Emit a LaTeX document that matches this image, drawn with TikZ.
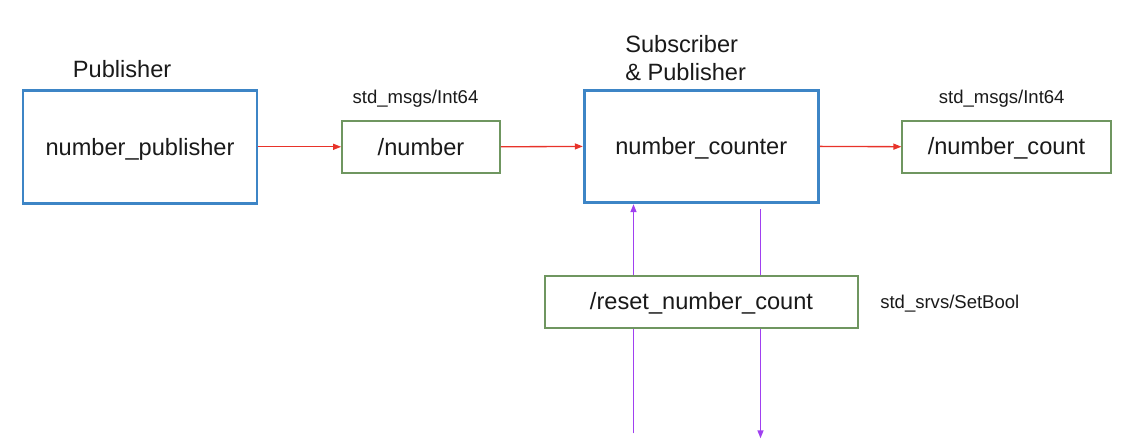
\documentclass[tikz,border=0pt]{standalone}
\usepackage{fontspec}
\setmainfont{Liberation Sans}
\usetikzlibrary{arrows.meta}
\definecolor{nodeblue}{HTML}{3D85C6}
\definecolor{topicgreen}{HTML}{6F9660}
\definecolor{msgred}{HTML}{E8332A}
\definecolor{srvpurple}{HTML}{A040F0}
\definecolor{txt}{HTML}{1A1A1A}
\tikzset{
  nodebox/.style={draw=nodeblue, line width=2.2pt, fill=white, text=txt,
    font=\fontsize{17.7pt}{21pt}\selectfont, text height=12.4pt, text depth=0pt,
    inner sep=0pt},
  topicbox/.style={draw=topicgreen, line width=1.3pt, fill=white, text=txt,
    font=\fontsize{17.7pt}{21pt}\selectfont, text height=12.4pt, text depth=0pt,
    inner sep=0pt},
  biglabel/.style={text=txt, font=\fontsize{17.7pt}{20.8pt}\selectfont, inner sep=0pt},
  smalllabel/.style={text=txt, font=\fontsize{13.9pt}{16pt}\selectfont, inner sep=0pt},
  msgarrow/.style={draw=msgred, line width=1pt, -{Triangle[length=6pt,width=4.5pt]}},
  srvline/.style={draw=srvpurple, line width=1.1pt},
  srvarrow/.style={srvline, -{Triangle[length=6pt,width=4.5pt]}}
}
\begin{document}
\begin{tikzpicture}[x=0.75pt,y=-0.75pt]
\useasboundingbox (0,0) rectangle (1128,444);
\fill[white] (0,0) rectangle (1128,444);

\node[nodebox, minimum width=175.5pt, minimum height=84.4pt] (pub) at (140,146.8) {number\_publisher};
\node[topicbox, minimum width=118.5pt, minimum height=38.8pt] (num) at (421,146.8) {/number};
\node[nodebox, minimum width=175.5pt, minimum height=84.5pt] (cnt) at (701.3,146.4) {number\_counter};
\node[topicbox, minimum width=156.3pt, minimum height=39pt] (numc) at (1006.5,146.7) {/number\_count};
\node[topicbox, minimum width=234.4pt, minimum height=39pt] (reset) at (701.5,301.7) {/reset\_number\_count};

\node[biglabel, anchor=base west] (publbl) at (72.7,77.7) {Publisher};
\node[biglabel, anchor=base west, align=left] (sublbl) at (625,80) {Subscriber\\\& Publisher};
\node[smalllabel, anchor=base] (msg1) at (415.5,103.3) {std\_msgs/Int64};
\node[smalllabel, anchor=base] (msg2) at (1001.7,103.3) {std\_msgs/Int64};
\node[smalllabel, anchor=base west] (srv) at (880,308.3) {std\_srvs/SetBool};

\draw[msgarrow] (pub.east) -- (num.west);
\draw[msgarrow] (num.east) -- (cnt.west);
\draw[msgarrow] (cnt.east) -- (numc.west);

\coordinate (upB) at (633.5,433.3);
\coordinate (dnT) at (760.5,209);
\coordinate (dnB) at (760.5,438.3);
\draw[srvline] (upB) -- (upB |- reset.south);
\draw[srvarrow] (upB |- reset.north) -- (upB |- cnt.south);
\draw[srvline] (dnT) -- (dnT |- reset.north);
\draw[srvarrow] (dnT |- reset.south) -- (dnB);
\end{tikzpicture}
\end{document}
